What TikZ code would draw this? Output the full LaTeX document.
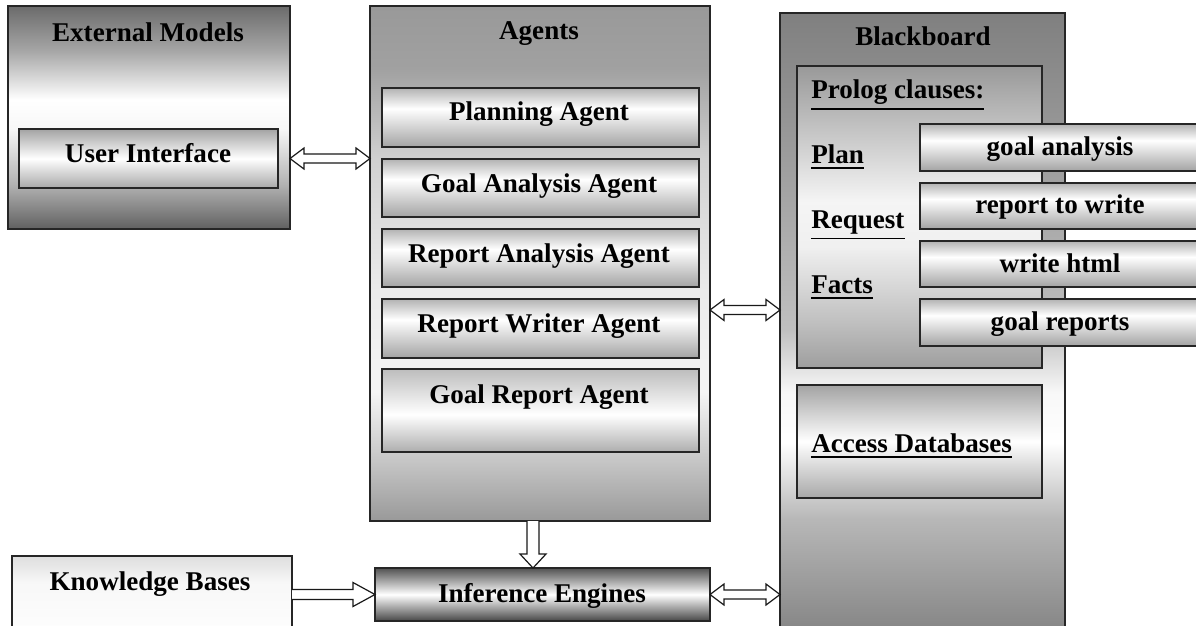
\documentclass[tikz,border=0pt]{standalone}
\usepackage{fontspec}
\setmainfont{Liberation Serif}
\usetikzlibrary{calc}

\pgfdeclareverticalshading{shExt}{100bp}{color(0bp)=(black!62); color(25bp)=(black!62); color(35bp)=(black!30); color(47.5bp)=(black!3); color(54bp)=(white); color(65bp)=(black!35); color(75bp)=(black!58); color(100bp)=(black!58)}
\pgfdeclareverticalshading{shAgents}{100bp}{color(0bp)=(black!40); color(25bp)=(black!40); color(31bp)=(black!22); color(37.5bp)=(black!4); color(47.5bp)=(black!8); color(60bp)=(black!18); color(69bp)=(black!37); color(75bp)=(black!40); color(100bp)=(black!40)}
\pgfdeclareverticalshading{shBB}{100bp}{color(0bp)=(black!50); color(25bp)=(black!50); color(35bp)=(black!28); color(41bp)=(white); color(45bp)=(black!3); color(50bp)=(black!25); color(60bp)=(black!35); color(75bp)=(black!50); color(100bp)=(black!50)}
\pgfdeclareverticalshading{shProlog}{100bp}{color(0bp)=(black!38); color(25bp)=(black!38); color(32.5bp)=(black!25); color(45bp)=(black!6); color(52.5bp)=(black!4); color(67.5bp)=(black!28); color(75bp)=(black!40); color(100bp)=(black!40)}
\pgfdeclareverticalshading{shSmall}{100bp}{color(0bp)=(black!36); color(25bp)=(black!36); color(57.5bp)=(white); color(75bp)=(black!30); color(100bp)=(black!30)}
\pgfdeclareverticalshading{shMid}{100bp}{color(0bp)=(black!34); color(25bp)=(black!34); color(50bp)=(white); color(75bp)=(black!36); color(100bp)=(black!36)}
\pgfdeclareverticalshading{shGR}{100bp}{color(0bp)=(black!32); color(25bp)=(black!32); color(47.5bp)=(white); color(75bp)=(black!26); color(100bp)=(black!26)}
\pgfdeclareverticalshading{shIE}{100bp}{color(0bp)=(black!72); color(25bp)=(black!72); color(50bp)=(white); color(75bp)=(black!68); color(100bp)=(black!68)}
\pgfdeclareverticalshading{shKB}{100bp}{color(0bp)=(white); color(25bp)=(white); color(60bp)=(black!3); color(75bp)=(black!13); color(100bp)=(black!13)}

\newcommand\myul[1]{\vtop{\hbox{#1}\kern3pt\hrule height 1.3pt}}

\newcommand\hdbl[2]{%
  \draw[blk] (#1) -- ($(#1)+(14,-10.5)$) -- ($(#1)+(14,-4.5)$) -- ($(#2)+(-14,-4.5)$) -- ($(#2)+(-14,-10.5)$) -- (#2)
    -- ($(#2)+(-14,10.5)$) -- ($(#2)+(-14,4.5)$) -- ($(#1)+(14,4.5)$) -- ($(#1)+(14,10.5)$) -- cycle;}

\tikzset{
  bx/.style={draw=black!85, line width=1.1pt, rectangle, inner sep=0pt, outer sep=0pt, shade},
  geom/.style n args={4}{minimum width={(#3-#1)*0.75pt}, minimum height={(#4-#2)*0.75pt}, at={({(#1+#3)/2},{(#2+#4)/2})}},
  lbl/.style={anchor=base, inner sep=0pt, font=\fontsize{20.3pt}{24pt}\selectfont\bfseries},
  lbll/.style={lbl, anchor=base west},
  blk/.style={draw=black!90, line width=0.9pt, fill=white, line join=miter},
}

\begin{document}
\begin{tikzpicture}[x=0.75pt, y=-0.75pt]
\useasboundingbox (0,0) rectangle (1196,625);
\clip (0,0) rectangle (1196,625);
\fill[white] (0,0) rectangle (1196,625);

% External models
\node[bx, shading=shExt, geom={8}{6}{290}{229}] (ext) {};
\node[lbl] (extT) at (148,41) {External Models};
\node[bx, shading=shMid, geom={19}{129}{278}{188}] (ui) {};
\node[lbl] (uiT) at (148,162) {User Interface};

% Agents
\node[bx, shading=shAgents, geom={370}{6}{710}{521}] (agents) {};
\node[lbl] (agT) at (539,39) {Agents};
\node[bx, shading=shSmall, geom={382}{88}{699}{147}] (pa) {};
\node[lbl] (paT) at (539,120) {Planning Agent};
\node[bx, shading=shSmall, geom={382}{159}{699}{217}] (gaa) {};
\node[lbl] (gaaT) at (539,192) {Goal Analysis Agent};
\node[bx, shading=shSmall, geom={382}{229}{699}{287}] (raa) {};
\node[lbl] (raaT) at (539,262) {Report Analysis Agent};
\node[bx, shading=shSmall, geom={382}{299}{699}{358}] (rwa) {};
\node[lbl] (rwaT) at (539,332) {Report Writer Agent};
\node[bx, shading=shGR, geom={382}{369}{699}{452}] (gra) {};
\node[lbl] (graT) at (539,403) {Goal Report Agent};

% Blackboard
\node[bx, shading=shBB, geom={780}{13}{1065}{645}] (bb) {};
\node[lbl] (bbT) at (923,45) {Blackboard};
\node[bx, shading=shProlog, geom={797}{66}{1042}{368}] (prolog) {};
\node[lbll] (prT) at (811,98) {\myul{Prolog clauses:}};
\node[lbll] (planT) at (811,163) {\myul{Plan}};
\node[lbll] (reqT) at (811,228) {\myul{Request}};
\node[lbll] (factT) at (811,293) {\myul{Facts}};
\node[bx, shading=shSmall, geom={920}{124}{1210}{171}] (v1) {};
\node[lbl] (v1T) at (1060,155) {goal analysis};
\node[bx, shading=shSmall, geom={920}{183}{1210}{229}] (v2) {};
\node[lbl] (v2T) at (1060,213) {report to write};
\node[bx, shading=shSmall, geom={920}{241}{1210}{287}] (v3) {};
\node[lbl] (v3T) at (1060,272) {write html};
\node[bx, shading=shSmall, geom={920}{299}{1210}{346}] (v4) {};
\node[lbl] (v4T) at (1060,330) {goal reports};
\node[bx, shading=shMid, geom={797}{385}{1042}{498}] (adb) {};
\node[lbll] (adbT) at (811,452) {\myul{Access Databases}};

% Bottom row
\node[bx, shading=shKB, geom={12}{556}{292}{645}] (kb) {};
\node[lbl] (kbT) at (150,590) {Knowledge Bases};
\node[bx, shading=shIE, geom={375}{568}{710}{621}] (ie) {};
\node[lbl] (ieT) at (542,602) {Inference Engines};

% Connectors
\coordinate (uiL) at (ext.east |- ui.center);
\coordinate (uiR) at (agents.west |- ui.center);
\hdbl{uiL}{uiR}
\coordinate (abY) at (0,310);
\coordinate (abL) at (agents.east |- abY);
\coordinate (abR) at (bb.west |- abY);
\hdbl{abL}{abR}
\coordinate (ieL) at (ie.east);
\coordinate (ieR) at (bb.west |- ie.east);
\hdbl{ieL}{ieR}

% Knowledge Bases -> Inference Engines
\coordinate (kbL) at (kb.east |- ie.west);
\coordinate (kbR) at (ie.west);
\draw[blk] ($(kbL)+(0,-5)$) -- ($(kbR)+(-22,-5)$) -- ($(kbR)+(-22,-12)$) -- (kbR) -- ($(kbR)+(-22,12)$) -- ($(kbR)+(-22,5)$) -- ($(kbL)+(0,5)$);

% Agents -> Inference Engines
\coordinate (dx) at (533,0);
\coordinate (agB) at (agents.south -| dx);
\coordinate (ieT2) at (ie.north -| dx);
\draw[blk] ($(agB)+(-6,0)$) -- ($(ieT2)+(-6,-14)$) -- ($(ieT2)+(-13,-14)$) -- (ieT2) -- ($(ieT2)+(13,-14)$) -- ($(ieT2)+(6,-14)$) -- ($(agB)+(6,0)$);
\end{tikzpicture}
\end{document}
